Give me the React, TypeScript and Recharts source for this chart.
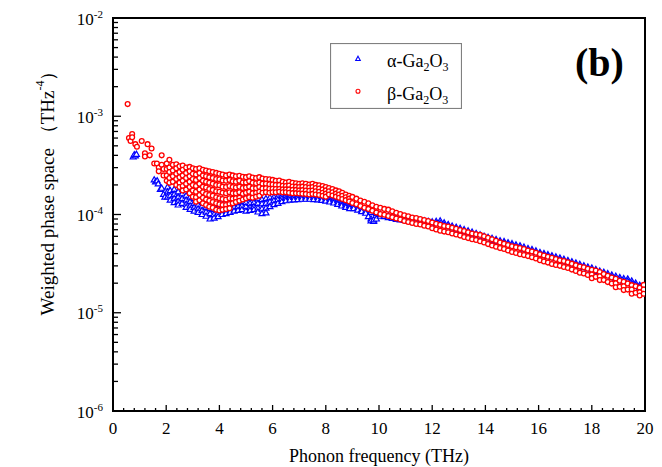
import React from 'react';
import { ScatterChart, Scatter, XAxis, YAxis, ReferenceArea, Legend } from 'recharts';

const SERIF = '"Liberation Serif", "Times New Roman", Times, serif';

// ---- axis ticks ----
const xMajorTicks = [0, 2, 4, 6, 8, 10, 12, 14, 16, 18, 20];
const xMinorTicks = [0.4, 0.8, 1.2, 1.6, 2.4, 2.8, 3.2, 3.6, 4.4, 4.8, 5.2, 5.6, 6.4, 6.8, 7.2, 7.6, 8.4, 8.8, 9.2, 9.6,
  10.4, 10.8, 11.2, 11.6, 12.4, 12.8, 13.2, 13.6, 14.4, 14.8, 15.2, 15.6, 16.4, 16.8, 17.2, 17.6, 18.4, 18.8, 19.2, 19.6];
const yDecadeTicks = [1e-6, 1e-5, 1e-4, 1e-3, 1e-2];
const yDecadeExponents = ['-6', '-5', '-4', '-3', '-2'];
const logMinorMultipliers = [2, 3, 4, 5, 6, 7, 8, 9];

// ---- α-Ga2O3 : rows of [frequency (THz), weighted phase space values...] ----
const alphaLow: number[][] = [
  [0.76, 3.85e-4], [0.8, 4.05e-4], [0.84, 3.95e-4], [0.88, 4.1e-4],
  [1.55, 2.25e-4], [1.6, 2.15e-4], [1.66, 2.2e-4], [1.7, 2.05e-4], [1.78, 1.8e-4],
  [1.83, 1.85e-4], [1.9, 1.6e-4], [1.95, 1.5e-4],
];
const alphaMid: number[][] = [
  [2.05, 1.9e-4, 1.7e-4, 1.5e-4],
  [2.15, 1.75e-4, 1.55e-4, 1.4e-4],
  [2.3, 1.8e-4, 1.6e-4, 1.45e-4, 1.32e-4],
  [2.45, 1.7e-4, 1.5e-4, 1.36e-4, 1.25e-4],
  [2.6, 1.62e-4, 1.45e-4, 1.3e-4],
  [2.75, 1.55e-4, 1.4e-4, 1.27e-4, 1.18e-4],
  [2.9, 1.5e-4, 1.35e-4, 1.22e-4, 1.13e-4],
  [3.05, 1.45e-4, 1.3e-4, 1.18e-4, 1.08e-4],
  [3.2, 1.4e-4, 1.25e-4, 1.14e-4, 1.05e-4],
  [3.35, 1.35e-4, 1.22e-4, 1.1e-4, 1.0e-4],
  [3.5, 1.3e-4, 1.18e-4, 1.06e-4, 9.6e-5],
  [3.65, 1.28e-4, 1.15e-4, 1.02e-4, 9.0e-5],
  [3.8, 1.25e-4, 1.12e-4, 1.0e-4, 9.2e-5],
  [3.95, 1.28e-4, 1.15e-4, 1.03e-4, 9.5e-5],
  [4.1, 1.32e-4, 1.2e-4, 1.08e-4, 1.0e-4],
  [4.25, 1.35e-4, 1.22e-4, 1.1e-4, 1.02e-4],
  [4.4, 1.38e-4, 1.25e-4, 1.12e-4, 1.05e-4],
  [4.55, 1.42e-4, 1.3e-4, 1.18e-4, 1.08e-4],
  [4.7, 1.45e-4, 1.32e-4, 1.2e-4, 1.1e-4],
  [4.85, 1.48e-4, 1.35e-4, 1.22e-4, 1.12e-4],
  [5.0, 1.45e-4, 1.32e-4, 1.2e-4, 1.08e-4],
  [5.15, 1.46e-4, 1.3e-4, 1.18e-4, 1.1e-4],
  [5.3, 1.48e-4, 1.32e-4, 1.2e-4, 1.12e-4],
  [5.45, 1.44e-4, 1.3e-4, 1.16e-4, 1.06e-4],
  [5.6, 1.42e-4, 1.28e-4, 1.14e-4, 1.02e-4],
  [5.75, 1.45e-4, 1.3e-4, 1.16e-4, 1.04e-4],
  [5.9, 1.48e-4, 1.34e-4, 1.2e-4],
  [6.05, 1.5e-4, 1.38e-4, 1.26e-4],
  [6.2, 1.52e-4, 1.42e-4, 1.3e-4],
  [6.35, 1.54e-4, 1.45e-4, 1.35e-4],
  [6.5, 1.55e-4, 1.46e-4, 1.38e-4],
  [6.65, 1.56e-4, 1.48e-4, 1.4e-4],
  [6.8, 1.57e-4, 1.49e-4, 1.41e-4],
  [6.95, 1.58e-4, 1.5e-4, 1.42e-4],
  [7.1, 1.58e-4, 1.5e-4, 1.43e-4],
  [7.25, 1.58e-4, 1.5e-4, 1.43e-4],
  [7.4, 1.57e-4, 1.5e-4, 1.43e-4],
  [7.55, 1.56e-4, 1.49e-4, 1.42e-4],
  [7.7, 1.55e-4, 1.48e-4, 1.41e-4],
  [7.85, 1.53e-4, 1.46e-4, 1.39e-4],
  [8.0, 1.5e-4, 1.43e-4, 1.37e-4],
  [8.15, 1.47e-4, 1.4e-4, 1.34e-4],
  [8.3, 1.43e-4, 1.37e-4, 1.31e-4],
  [8.45, 1.38e-4, 1.32e-4, 1.27e-4],
  [8.6, 1.33e-4, 1.27e-4, 1.22e-4],
  [8.75, 1.28e-4, 1.23e-4, 1.18e-4],
  [8.9, 1.24e-4, 1.19e-4, 1.15e-4],
];
const alphaHigh: number[][] = [
  [9.05, 1.2e-4, 1.15e-4], [9.2, 1.16e-4, 1.11e-4], [9.35, 1.12e-4, 1.07e-4], [9.5, 1.08e-4, 1.03e-4],
  [9.6, 9.5e-5], [9.7, 1.05e-4, 9.0e-5, 8.6e-5], [9.8, 8.5e-5, 8.8e-5], [9.9, 1.02e-4, 9.0e-5],
  [10.05, 1.0e-4, 9.6e-5], [10.2, 9.9e-5, 9.5e-5], [10.35, 9.7e-5, 9.3e-5], [10.5, 9.5e-5, 9.1e-5],
  [10.65, 9.3e-5, 8.9e-5], [10.8, 9.2e-5, 8.8e-5], [10.95, 9.1e-5, 8.7e-5], [11.1, 9.0e-5, 8.6e-5],
  [11.25, 8.9e-5, 8.5e-5], [11.4, 8.8e-5, 8.4e-5], [11.55, 8.7e-5, 8.3e-5], [11.7, 8.6e-5, 8.2e-5],
  [11.85, 8.5e-5, 8.1e-5], [12.0, 8.4e-5, 8.0e-5], [12.15, 8.5e-5, 8.1e-5], [12.3, 8.6e-5, 8.1e-5],
  [12.45, 8.2e-5, 7.8e-5], [12.6, 7.9e-5, 7.5e-5], [12.75, 7.6e-5, 7.3e-5], [12.9, 7.4e-5, 7.1e-5],
  [13.05, 7.2e-5, 6.9e-5], [13.2, 7.0e-5, 6.7e-5], [13.35, 6.8e-5, 6.5e-5], [13.5, 6.6e-5, 6.3e-5],
  [13.65, 6.4e-5, 6.1e-5], [13.8, 6.2e-5, 5.95e-5], [13.95, 6.0e-5, 5.8e-5], [14.1, 5.85e-5, 5.6e-5],
  [14.25, 5.7e-5, 5.45e-5], [14.4, 5.55e-5, 5.3e-5], [14.55, 5.4e-5, 5.2e-5], [14.7, 5.3e-5, 5.1e-5],
  [14.85, 5.15e-5, 4.95e-5], [15.0, 5.05e-5, 4.85e-5], [15.15, 4.9e-5, 4.7e-5], [15.3, 4.8e-5, 4.6e-5],
  [15.45, 4.65e-5, 4.45e-5], [15.6, 4.5e-5, 4.3e-5], [15.75, 4.4e-5, 4.2e-5], [15.9, 4.25e-5, 4.1e-5],
  [16.05, 4.1e-5, 3.95e-5], [16.2, 4.0e-5, 3.85e-5], [16.35, 3.9e-5, 3.75e-5], [16.5, 3.8e-5, 3.65e-5],
  [16.65, 3.7e-5, 3.55e-5], [16.8, 3.6e-5, 3.45e-5], [16.95, 3.5e-5, 3.35e-5], [17.1, 3.4e-5, 3.25e-5],
  [17.25, 3.3e-5, 3.15e-5], [17.4, 3.2e-5, 3.05e-5], [17.55, 3.1e-5, 2.95e-5], [17.7, 3.0e-5, 2.88e-5],
  [17.85, 2.92e-5, 2.8e-5], [18.0, 2.85e-5, 2.72e-5], [18.15, 2.75e-5, 2.62e-5], [18.3, 2.65e-5, 2.52e-5],
  [18.45, 2.58e-5, 2.45e-5], [18.6, 2.5e-5, 2.38e-5], [18.75, 2.42e-5, 2.3e-5], [18.9, 2.35e-5, 2.22e-5],
  [19.05, 2.28e-5, 2.15e-5], [19.2, 2.22e-5, 2.1e-5], [19.35, 2.2e-5, 2.08e-5], [19.5, 2.1e-5, 1.98e-5],
  [19.65, 2.0e-5, 1.9e-5], [19.8, 1.9e-5, 1.8e-5], [19.95, 1.8e-5, 1.7e-5],
];

// ---- β-Ga2O3 : rows of [frequency (THz), weighted phase space values...] ----
const betaLow: number[][] = [
  [0.55, 1.33e-3], [0.6, 6.0e-4], [0.66, 5.6e-4], [0.72, 6.6e-4, 6.1e-4], [0.84, 5.2e-4], [0.9, 4.9e-4],
  [1.08, 5.6e-4], [1.2, 4.2e-4, 3.9e-4], [1.3, 5.2e-4], [1.38, 4.0e-4], [1.45, 4.7e-4], [1.55, 3.3e-4],
  [1.65, 3.3e-4], [1.72, 3.0e-4, 2.75e-4], [1.83, 4.0e-4, 3.2e-4], [1.9, 2.9e-4, 2.5e-4],
];
const betaMid: number[][] = [
  [2.02, 3.3e-4, 2.9e-4, 2.5e-4, 2.2e-4],
  [2.12, 3.6e-4, 3.0e-4, 2.7e-4, 2.35e-4, 2.1e-4],
  [2.25, 3.2e-4, 2.8e-4, 2.45e-4, 2.15e-4],
  [2.38, 3.25e-4, 2.95e-4, 2.6e-4, 2.3e-4, 2.0e-4],
  [2.5, 3.1e-4, 2.7e-4, 2.4e-4, 2.1e-4, 1.9e-4],
  [2.62, 3.15e-4, 2.85e-4, 2.5e-4, 2.2e-4, 1.95e-4, 1.75e-4],
  [2.75, 3.0e-4, 2.65e-4, 2.35e-4, 2.05e-4, 1.8e-4],
  [2.88, 3.05e-4, 2.75e-4, 2.45e-4, 2.15e-4, 1.9e-4, 1.65e-4],
  [3.0, 2.95e-4, 2.6e-4, 2.3e-4, 2.0e-4, 1.75e-4, 1.52e-4],
  [3.12, 2.9e-4, 2.55e-4, 2.25e-4, 1.95e-4, 1.7e-4, 1.5e-4, 1.35e-4],
  [3.25, 2.95e-4, 2.65e-4, 2.35e-4, 2.05e-4, 1.8e-4, 1.58e-4, 1.4e-4],
  [3.38, 2.85e-4, 2.5e-4, 2.2e-4, 1.92e-4, 1.68e-4, 1.48e-4, 1.3e-4],
  [3.5, 2.8e-4, 2.45e-4, 2.15e-4, 1.88e-4, 1.62e-4, 1.42e-4, 1.25e-4],
  [3.62, 2.75e-4, 2.4e-4, 2.1e-4, 1.82e-4, 1.58e-4, 1.38e-4, 1.2e-4],
  [3.75, 2.7e-4, 2.35e-4, 2.05e-4, 1.78e-4, 1.55e-4, 1.34e-4, 1.17e-4],
  [3.88, 2.65e-4, 2.3e-4, 2.0e-4, 1.72e-4, 1.5e-4, 1.3e-4, 1.12e-4],
  [4.0, 2.6e-4, 2.28e-4, 1.98e-4, 1.7e-4, 1.46e-4, 1.27e-4, 1.1e-4],
  [4.12, 2.55e-4, 2.22e-4, 1.92e-4, 1.66e-4, 1.44e-4, 1.25e-4, 1.12e-4],
  [4.25, 2.5e-4, 2.2e-4, 1.9e-4, 1.65e-4, 1.42e-4, 1.25e-4, 1.14e-4],
  [4.38, 2.55e-4, 2.25e-4, 1.95e-4, 1.68e-4, 1.46e-4, 1.28e-4, 1.16e-4],
  [4.5, 2.5e-4, 2.18e-4, 1.9e-4, 1.65e-4, 1.45e-4, 1.3e-4],
  [4.62, 2.45e-4, 2.15e-4, 1.88e-4, 1.65e-4, 1.46e-4, 1.34e-4],
  [4.75, 2.48e-4, 2.2e-4, 1.92e-4, 1.68e-4, 1.48e-4, 1.38e-4],
  [4.88, 2.42e-4, 2.12e-4, 1.86e-4, 1.63e-4, 1.42e-4],
  [5.0, 2.4e-4, 2.12e-4, 1.88e-4, 1.66e-4, 1.46e-4],
  [5.12, 2.45e-4, 2.18e-4, 1.92e-4, 1.7e-4, 1.5e-4],
  [5.25, 2.38e-4, 2.1e-4, 1.85e-4, 1.65e-4, 1.48e-4],
  [5.38, 2.35e-4, 2.08e-4, 1.85e-4, 1.66e-4, 1.52e-4],
  [5.5, 2.4e-4, 2.12e-4, 1.9e-4, 1.7e-4, 1.55e-4],
  [5.62, 2.32e-4, 2.06e-4, 1.84e-4, 1.66e-4],
  [5.75, 2.3e-4, 2.05e-4, 1.85e-4, 1.68e-4],
  [5.88, 2.28e-4, 2.03e-4, 1.83e-4, 1.66e-4],
  [6.0, 2.25e-4, 2.02e-4, 1.83e-4, 1.68e-4],
  [6.12, 2.2e-4, 2.0e-4, 1.82e-4, 1.68e-4],
  [6.25, 2.22e-4, 2.0e-4, 1.82e-4, 1.7e-4],
  [6.38, 2.15e-4, 1.96e-4, 1.8e-4, 1.68e-4],
  [6.5, 2.12e-4, 1.95e-4, 1.8e-4, 1.68e-4],
  [6.62, 2.15e-4, 1.97e-4, 1.8e-4, 1.66e-4],
  [6.75, 2.1e-4, 1.93e-4, 1.78e-4, 1.65e-4],
  [6.88, 2.08e-4, 1.92e-4, 1.78e-4, 1.65e-4],
  [7.0, 2.05e-4, 1.9e-4, 1.76e-4, 1.64e-4],
  [7.12, 2.08e-4, 1.92e-4, 1.77e-4, 1.63e-4],
  [7.25, 2.05e-4, 1.9e-4, 1.75e-4, 1.62e-4],
  [7.38, 2.02e-4, 1.88e-4, 1.74e-4, 1.6e-4],
  [7.5, 2.05e-4, 1.9e-4, 1.75e-4, 1.62e-4],
  [7.62, 2.0e-4, 1.86e-4, 1.72e-4, 1.6e-4],
  [7.75, 1.98e-4, 1.84e-4, 1.7e-4, 1.58e-4],
  [7.88, 1.95e-4, 1.8e-4, 1.66e-4, 1.55e-4],
  [8.0, 1.9e-4, 1.76e-4, 1.63e-4, 1.52e-4],
  [8.12, 1.86e-4, 1.72e-4, 1.6e-4],
  [8.25, 1.82e-4, 1.68e-4, 1.56e-4],
  [8.38, 1.76e-4, 1.63e-4, 1.52e-4],
  [8.5, 1.72e-4, 1.6e-4, 1.48e-4],
  [8.62, 1.66e-4, 1.55e-4, 1.44e-4],
  [8.75, 1.6e-4, 1.5e-4, 1.4e-4],
  [8.88, 1.55e-4, 1.45e-4, 1.36e-4],
];
const betaHigh: number[][] = [
  [9.0, 1.51e-4, 1.31e-4], [9.15, 1.45e-4, 1.27e-4], [9.3, 1.39e-4, 1.22e-4], [9.45, 1.35e-4, 1.17e-4],
  [9.6, 1.3e-4, 1.14e-4], [9.75, 1.24e-4, 1.09e-4], [9.9, 1.2e-4, 1.05e-4], [10.05, 1.17e-4, 1.01e-4],
  [10.2, 1.14e-4, 9.95e-5], [10.35, 1.12e-4, 9.65e-5], [10.5, 1.08e-4, 9.4e-5], [10.65, 1.04e-4, 9.1e-5],
  [10.8, 1.01e-4, 8.9e-5], [10.95, 9.8e-5, 8.6e-5], [11.1, 9.6e-5, 8.4e-5], [11.25, 9.3e-5, 8.2e-5],
  [11.4, 9.2e-5, 8.0e-5], [11.55, 9.0e-5, 7.9e-5], [11.7, 8.8e-5, 7.7e-5], [11.85, 8.6e-5, 7.55e-5],
  [12.0, 8.3e-5, 7.25e-5], [12.15, 8.05e-5, 7.05e-5], [12.3, 7.85e-5, 6.85e-5], [12.45, 7.65e-5, 6.7e-5],
  [12.6, 7.55e-5, 6.6e-5], [12.75, 7.35e-5, 6.4e-5], [12.9, 7.15e-5, 6.25e-5], [13.05, 6.95e-5, 6.1e-5],
  [13.2, 6.8e-5, 5.9e-5], [13.35, 6.6e-5, 5.75e-5], [13.5, 6.4e-5, 5.6e-5], [13.65, 6.3e-5, 5.5e-5],
  [13.8, 6.2e-5, 5.35e-5], [13.95, 6.0e-5, 5.2e-5], [14.1, 5.8e-5, 5.0e-5], [14.25, 5.6e-5, 4.85e-5],
  [14.4, 5.4e-5, 4.7e-5], [14.55, 5.2e-5, 4.55e-5], [14.7, 5.05e-5, 4.45e-5], [14.85, 4.9e-5, 4.3e-5],
  [15.0, 4.75e-5, 4.15e-5], [15.15, 4.65e-5, 4.05e-5], [15.3, 4.55e-5, 3.95e-5], [15.45, 4.45e-5, 3.86e-5],
  [15.6, 4.3e-5, 3.77e-5], [15.75, 4.2e-5, 3.67e-5], [15.9, 4.08e-5, 3.57e-5], [16.05, 3.93e-5, 3.43e-5],
  [16.2, 3.83e-5, 3.33e-5], [16.35, 3.72e-5, 3.24e-5], [16.5, 3.62e-5, 3.14e-5], [16.65, 3.52e-5, 3.07e-5],
  [16.8, 3.42e-5, 3.0e-5], [16.95, 3.36e-5, 2.92e-5], [17.1, 3.26e-5, 2.85e-5], [17.25, 3.16e-5, 2.75e-5],
  [17.4, 3.05e-5, 2.66e-5], [17.55, 2.95e-5, 2.56e-5], [17.7, 2.9e-5, 2.51e-5], [17.85, 2.8e-5, 2.42e-5],
  [18.0, 2.74e-5, 2.45e-5, 2.25e-5], [18.15, 2.69e-5, 2.32e-5], [18.3, 2.6e-5, 2.35e-5, 2.15e-5],
  [18.45, 2.48e-5, 2.15e-5], [18.6, 2.38e-5, 2.05e-5], [18.75, 2.28e-5, 1.98e-5],
  [18.9, 2.22e-5, 2.0e-5, 1.82e-5], [19.05, 2.12e-5, 1.84e-5], [19.2, 2.07e-5, 1.86e-5, 1.7e-5],
  [19.35, 1.99e-5, 1.72e-5], [19.5, 1.91e-5, 1.72e-5, 1.56e-5], [19.65, 1.86e-5, 1.6e-5],
  [19.8, 1.8e-5, 1.62e-5, 1.5e-5], [19.95, 1.92e-5, 1.72e-5, 1.56e-5],
];

const toPoints = (rows: number[][]) =>
  rows.flatMap(([x, ...ys]) => ys.map((y) => ({ x, y })));

const alphaPoints = toPoints([...alphaLow, ...alphaMid, ...alphaHigh]);
const betaPoints = toPoints([...betaLow, ...betaMid, ...betaHigh]);

const xAllTicks = [...xMajorTicks, ...xMinorTicks].sort((a, b) => a - b);
const yMinorTicks = yDecadeTicks.slice(0, -1).flatMap((d) => logMinorMultipliers.map((m) => d * m));
const yAllTicks = [...yDecadeTicks, ...yMinorTicks].sort((a, b) => a - b);

const isMajorX = (v: number) => xMajorTicks.some((t) => Math.abs(t - v) < 1e-6);
const decadeIndex = (v: number) => yDecadeTicks.findIndex((d) => Math.abs(d - v) / d < 1e-6);

const XTick = (props: any) => {
  const { x, y, payload } = props;
  const v = payload.value;
  const major = isMajorX(v);
  return (
    <g>
      <line x1={x} x2={x} y1={y} y2={y - (major ? 6 : 3)} stroke="#000" strokeWidth={1.3} />
      {major && (
        <text x={x} y={y + 22.5} textAnchor="middle" fontFamily={SERIF} fontSize={17} fill="#000">
          {v}
        </text>
      )}
    </g>
  );
};

const YTick = (props: any) => {
  const { x, y, payload } = props;
  const idx = decadeIndex(payload.value);
  const major = idx >= 0;
  return (
    <g>
      <line x1={x} x2={x + (major ? 8 : 5)} y1={y} y2={y} stroke="#000" strokeWidth={1.3} />
      {major && (
        <text x={x - 10} y={y + 6.5} textAnchor="end" fontFamily={SERIF} fontSize={17} fill="#000">
          <tspan>10</tspan>
          <tspan dy={-7} fontSize={11}>{yDecadeExponents[idx]}</tspan>
        </text>
      )}
    </g>
  );
};

const XLabel = (props: any) => {
  const vb = props.viewBox || { x: 113, y: 411, width: 532, height: 56 };
  return (
    <text x={vb.x + vb.width / 2} y={vb.y + 51} textAnchor="middle" fontFamily={SERIF} fontSize={18} fill="#000">
      Phonon frequency (THz)
    </text>
  );
};

const YLabel = (props: any) => {
  const vb = props.viewBox || { x: 0, y: 18, width: 113, height: 393 };
  const cx = vb.x + 47;
  const cy = vb.y + vb.height / 2 - 26;
  return (
    <text x={cx} y={cy} transform={`rotate(-90 ${cx} ${cy})`} textAnchor="middle" dominantBaseline="central"
      fontFamily={SERIF} fontSize={19} fill="#000">
      Weighted phase space （THz<tspan dy={-7} fontSize={12}>-4</tspan><tspan dy={7}>）</tspan>
    </text>
  );
};

const Triangle = (props: any) => {
  const { cx, cy } = props;
  if (cx == null || cy == null) return <g />;
  return (
    <path d={`M${cx},${cy - 3.2}L${cx + 3},${cy + 2}L${cx - 3},${cy + 2}Z`} fill="#fff" stroke="#0000ff" strokeWidth={1.2} />
  );
};

const Circle = (props: any) => {
  const { cx, cy } = props;
  if (cx == null || cy == null) return <g />;
  return <circle cx={cx} cy={cy} r={2.4} fill="#fff" stroke="#ff0000" strokeWidth={1.3} />;
};

const LegendBox = () => (
  <svg width={132} height={66} style={{ display: 'block' }}>
    <rect x={0.5} y={0.5} width={131} height={65} fill="#fff" stroke="#808080" strokeWidth={1.2} />
    <path d="M28,13.2L30.3,17.5L25.7,17.5Z" fill="#fff" stroke="#0000ff" strokeWidth={1.1} />
    <circle cx={28} cy={48.3} r={2} fill="#fff" stroke="#ff0000" strokeWidth={1.1} />
    <text x={57} y={24} fontFamily={SERIF} fontSize={18} fill="#000">
      α-Ga<tspan dy={4} fontSize={12}>2</tspan><tspan dy={-4}>O</tspan><tspan dy={4} fontSize={12}>3</tspan>
    </text>
    <text x={57} y={57} fontFamily={SERIF} fontSize={18} fill="#000">
      β-Ga<tspan dy={4} fontSize={12}>2</tspan><tspan dy={-4}>O</tspan><tspan dy={4} fontSize={12}>3</tspan>
    </text>
  </svg>
);

export default function App() {
  return (
    <div style={{ position: 'absolute', left: 0, top: 0, width: 662, height: 467, background: '#fff' }}>
      <ScatterChart width={662} height={467} margin={{ top: 18, right: 17, bottom: 0, left: 0 }}>
        <XAxis
          type="number"
          dataKey="x"
          domain={[0, 20]}
          ticks={xAllTicks}
          interval={0}
          tickSize={0}
          tickMargin={0}
          tickLine={false}
          tick={XTick}
          axisLine={{ stroke: '#000', strokeWidth: 2 }}
          height={56}
          allowDataOverflow
          label={{ content: XLabel }}
        />
        <YAxis
          type="number"
          dataKey="y"
          scale="log"
          domain={[1e-6, 1e-2]}
          ticks={yAllTicks}
          interval={0}
          tickSize={0}
          tickMargin={0}
          tickLine={false}
          tick={YTick}
          axisLine={{ stroke: '#000', strokeWidth: 2 }}
          width={113}
          allowDataOverflow
          label={{ content: YLabel }}
        />
        <ReferenceArea x1={0} x2={20} y1={1e-6} y2={1e-2} fill="none" fillOpacity={0} stroke="#000" strokeWidth={2} />
        <Scatter name="α-Ga2O3" data={alphaPoints} shape={Triangle} isAnimationActive={false} />
        <Scatter name="β-Ga2O3" data={betaPoints} shape={Circle} isAnimationActive={false} />
        <Legend
          layout="vertical"
          align="center"
          verticalAlign="middle"
          wrapperStyle={{ left: 330, top: 43, width: 132, height: 66 }}
          content={() => <LegendBox />}
        />
      </ScatterChart>
      <svg width={662} height={467} style={{ position: 'absolute', left: 0, top: 0, pointerEvents: 'none' }}>
        <text x={575} y={76} fontFamily={SERIF} fontSize={40} fontWeight="bold" fill="#000">(b)</text>
      </svg>
    </div>
  );
}
